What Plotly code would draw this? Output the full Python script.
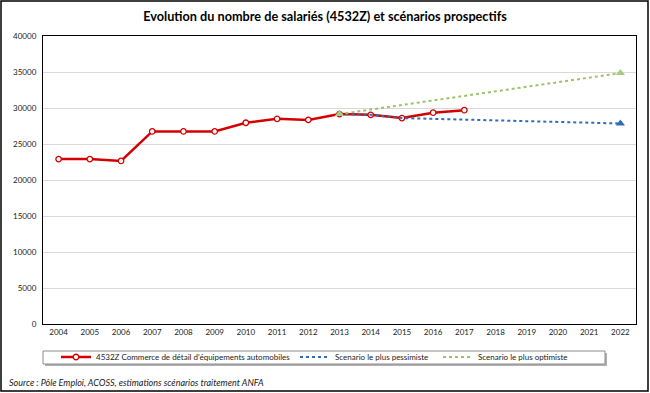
import plotly.graph_objects as go

# ---- data ----
years = [2004, 2005, 2006, 2007, 2008, 2009, 2010, 2011, 2012, 2013, 2014, 2015, 2016, 2017]
salaries = [22900, 22900, 22650, 26750, 26750, 26750, 27950, 28500, 28350, 29150, 29050, 28600, 29350, 29700]

pess_years = [2013, 2014, 2015, 2022]
pess_values = [29150, 29050, 28600, 27850]
pess_marker_years = [2013, 2022]
pess_marker_values = [29150, 27850]

opt_years = [2013, 2022]
opt_values = [29150, 34850]

tick_years = list(range(2004, 2023))
y_ticks = [0, 5000, 10000, 15000, 20000, 25000, 30000, 35000, 40000]
y_tick_labels = ["0", "5000", "10000", "15000", "20000", "25000", "30000", "35000", "40000"]

name_actual = "4532Z Commerce de détail d'équipements automobiles"
name_pess = "Scenario le plus pessimiste"
name_opt = "Scenario le plus optimiste"
title_text = "Evolution du nombre de salariés (4532Z) et scénarios prospectifs"
source_text = "Source : Pôle Emploi, ACOSS, estimations scénarios traitement ANFA"

# ---- geometry (pixels) ----
W, H = 650, 393
L, R, T, B = 43, 14, 36, 69
PW, PH = W - L - R, H - T - B

def px(x):
    return (x - L) / PW

def py(y):
    return (H - B - y) / PH

FONT = "Lato, 'Open Sans', sans-serif"
RED = "#D40000"
BLUE = "#2E6DB4"
GREEN = "#9BC46A"
TXT = "#1a1a1a"

fig = go.Figure()

fig.add_trace(go.Scatter(
    x=years, y=salaries, name=name_actual, mode="lines+markers",
    line=dict(color=RED, width=2.5),
    marker=dict(symbol="circle", size=5.5, color="white", line=dict(color=RED, width=1.3)),
    legend="legend",
))
fig.add_trace(go.Scatter(
    x=pess_years, y=pess_values, name=name_pess, mode="lines",
    line=dict(color=BLUE, width=2, dash="dot"),
    legend="legend2",
))
fig.add_trace(go.Scatter(
    x=pess_marker_years, y=pess_marker_values, mode="markers", showlegend=False,
    marker=dict(symbol="triangle-up", size=8, color=BLUE),
))
fig.add_trace(go.Scatter(
    x=opt_years, y=opt_values, name=name_opt, mode="lines",
    line=dict(color=GREEN, width=2, dash="dot"),
    legend="legend3",
))
fig.add_trace(go.Scatter(
    x=opt_years, y=opt_values, mode="markers", showlegend=False,
    marker=dict(symbol="triangle-up", size=8, color="#A6CC82"),
))

shapes = [
    # outer frame
    dict(type="rect", xref="paper", yref="paper",
         x0=px(1), x1=px(648), y0=py(1), y1=py(391),
         line=dict(color="black", width=1.5), fillcolor="rgba(0,0,0,0)", layer="above"),
    # legend shadow
    dict(type="rect", xref="paper", yref="paper",
         x0=px(45), x1=px(607), y0=py(353), y1=py(366),
         line=dict(width=0), fillcolor="#B0B0B0", layer="below"),
    # legend box
    dict(type="rect", xref="paper", yref="paper",
         x0=px(43), x1=px(605), y0=py(351), y1=py(364),
         line=dict(color="#8C8C8C", width=1), fillcolor="white", layer="below"),
]

legend_common = dict(orientation="h", bgcolor="rgba(0,0,0,0)", borderwidth=0,
                     font=dict(family=FONT, size=8, color=TXT),
                     xanchor="left", yanchor="middle", itemwidth=30)

fig.update_layout(
    width=W, height=H,
    margin=dict(l=L, r=R, t=T, b=B, autoexpand=False),
    paper_bgcolor="white", plot_bgcolor="white",
    title=dict(text="<b>" + title_text + "</b>", x=0.5, xanchor="center",
               y=1 - 17 / H, yanchor="middle",
               font=dict(family=FONT, size=12.7, color="black")),
    xaxis=dict(range=[2003.5, 2022.5], tickvals=tick_years, ticktext=[str(t) for t in tick_years],
               showgrid=False, zeroline=False, showline=True, linecolor="black", linewidth=1.2,
               mirror=True, ticks="", tickfont=dict(family=FONT, size=8, color=TXT)),
    yaxis=dict(range=[0, 40000], tickvals=y_ticks, ticktext=y_tick_labels, showgrid=True,
               gridcolor="#D9D9D9", gridwidth=1, zeroline=False, showline=True,
               linecolor="black", linewidth=1.2, mirror=True, ticks="",
               tickfont=dict(family=FONT, size=8, color=TXT), ticklabelstandoff=4),
    showlegend=True,
    legend=dict(x=px(56), y=py(357), **legend_common),
    legend2=dict(x=px(295), y=py(357), **legend_common),
    legend3=dict(x=px(438), y=py(357), **legend_common),
    shapes=shapes,
    annotations=[dict(text="<i>" + source_text + "</i>", xref="paper", yref="paper",
                      x=px(7), y=py(382), xanchor="left", yanchor="middle", showarrow=False,
                      font=dict(family=FONT, size=9, color=TXT))],
)

fig.write_html("out.html", config={"displayModeBar": False},
               post_script="document.body.style.margin='0';document.body.style.overflow='hidden';")
